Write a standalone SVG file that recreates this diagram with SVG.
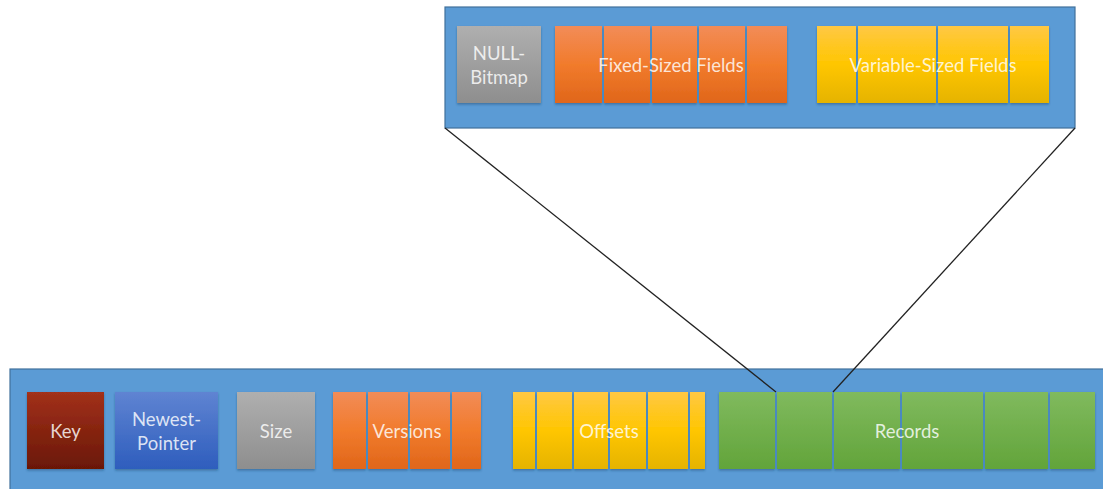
<svg xmlns="http://www.w3.org/2000/svg" width="1103" height="489" viewBox="0 0 1103 489">
  <defs>
    <linearGradient id="gRed" x1="0" y1="0" x2="0" y2="1">
      <stop offset="0" stop-color="#A2301A"/>
      <stop offset="1" stop-color="#6A1806"/>
    </linearGradient>
    <linearGradient id="gBlue" x1="0" y1="0" x2="0" y2="1">
      <stop offset="0" stop-color="#5F84D2"/>
      <stop offset="1" stop-color="#2E5DBD"/>
    </linearGradient>
    <linearGradient id="gGray" x1="0" y1="0" x2="0" y2="1">
      <stop offset="0" stop-color="#AFAFAF"/>
      <stop offset="1" stop-color="#8E8E8E"/>
    </linearGradient>
    <linearGradient id="gOrange" x1="0" y1="0" x2="0" y2="1">
      <stop offset="0" stop-color="#F28C58"/>
      <stop offset="0.5" stop-color="#F17B2C"/>
      <stop offset="1" stop-color="#E0661A"/>
    </linearGradient>
    <linearGradient id="gYellow" x1="0" y1="0" x2="0" y2="1">
      <stop offset="0" stop-color="#FFC844"/>
      <stop offset="0.5" stop-color="#FFC600"/>
      <stop offset="1" stop-color="#E5B300"/>
    </linearGradient>
    <linearGradient id="gGreen" x1="0" y1="0" x2="0" y2="1">
      <stop offset="0" stop-color="#80BA5E"/>
      <stop offset="1" stop-color="#62A43A"/>
    </linearGradient>
    <filter id="shadow" x="-10%" y="-10%" width="120%" height="125%">
      <feDropShadow dx="0" dy="1.5" stdDeviation="1.2" flood-color="#1f3f66" flood-opacity="0.45"/>
    </filter>
  </defs>
  <style>
    .frame { fill: #5B9BD5; stroke: #41719C; stroke-width: 1.2; }
    .cell { filter: url(#shadow); }
    .lbl { font-family: Lato, "Open Sans", "Liberation Sans", sans-serif; font-size: 18.5px; fill: #ffffff; fill-opacity: 0.82; text-anchor: middle; }
    .zoom { stroke: #222222; stroke-width: 1.3; fill: none; }
  </style>

  <rect width="1103" height="489" fill="#ffffff"/>

  <!-- magnified record layout -->
  <g id="record-detail">
    <rect class="frame" x="445" y="7" width="630" height="121"/>
  </g>

  <g id="null-bitmap">
    <rect class="cell" x="457" y="26" width="84" height="77" fill="url(#gGray)"/>
    <text class="lbl" x="499" y="60">NULL-</text>
    <text class="lbl" x="499" y="84">Bitmap</text>
  </g>

  <g id="fixed-sized-fields">
    <g class="cell" fill="url(#gOrange)">
      <rect x="555" y="26" width="47" height="77"/>
      <rect x="604" y="26" width="46" height="77"/>
      <rect x="652" y="26" width="45" height="77"/>
      <rect x="699" y="26" width="46" height="77"/>
      <rect x="747" y="26" width="40" height="77"/>
    </g>
    <text class="lbl" x="671" y="72">Fixed-Sized Fields</text>
  </g>

  <g id="variable-sized-fields">
    <g class="cell" fill="url(#gYellow)">
      <rect x="817" y="26" width="39" height="77"/>
      <rect x="858" y="26" width="78" height="77"/>
      <rect x="938" y="26" width="70" height="77"/>
      <rect x="1010" y="26" width="39" height="77"/>
    </g>
    <text class="lbl" x="933" y="72">Variable-Sized Fields</text>
  </g>

  <!-- version chain entry -->
  <g id="entry">
    <rect class="frame" x="10" y="369" width="1100" height="130"/>
  </g>

  <g id="key">
    <rect class="cell" x="27" y="392" width="77" height="77" fill="url(#gRed)"/>
    <text class="lbl" x="65.5" y="438">Key</text>
  </g>

  <g id="newest-pointer">
    <rect class="cell" x="115" y="392" width="103" height="77" fill="url(#gBlue)"/>
    <text class="lbl" x="166.5" y="426">Newest-</text>
    <text class="lbl" x="166.5" y="450">Pointer</text>
  </g>

  <g id="size">
    <rect class="cell" x="237" y="392" width="78" height="77" fill="url(#gGray)"/>
    <text class="lbl" x="276" y="438">Size</text>
  </g>

  <g id="versions">
    <g class="cell" fill="url(#gOrange)">
      <rect x="333" y="392" width="33" height="77"/>
      <rect x="368" y="392" width="40" height="77"/>
      <rect x="410" y="392" width="40" height="77"/>
      <rect x="452" y="392" width="29" height="77"/>
    </g>
    <text class="lbl" x="407" y="438">Versions</text>
  </g>

  <g id="offsets">
    <g class="cell" fill="url(#gYellow)">
      <rect x="513" y="392" width="22" height="77"/>
      <rect x="537" y="392" width="35" height="77"/>
      <rect x="574" y="392" width="34" height="77"/>
      <rect x="610" y="392" width="36" height="77"/>
      <rect x="648" y="392" width="40" height="77"/>
      <rect x="690" y="392" width="15" height="77"/>
    </g>
    <text class="lbl" x="609" y="438">Offsets</text>
  </g>

  <g id="records">
    <g class="cell" fill="url(#gGreen)">
      <rect x="719" y="392" width="56" height="77"/>
      <rect x="777" y="392" width="55" height="77"/>
      <rect x="834" y="392" width="66" height="77"/>
      <rect x="902" y="392" width="81" height="77"/>
      <rect x="985" y="392" width="63" height="77"/>
      <rect x="1050" y="392" width="45" height="77"/>
    </g>
    <text class="lbl" x="907" y="438">Records</text>
  </g>

  <!-- connectors from the second record cell to its magnified layout -->
  <g id="connectors">
    <line class="zoom" x1="445" y1="128" x2="776" y2="392"/>
    <line class="zoom" x1="1075" y1="128" x2="833" y2="392"/>
  </g>
</svg>
